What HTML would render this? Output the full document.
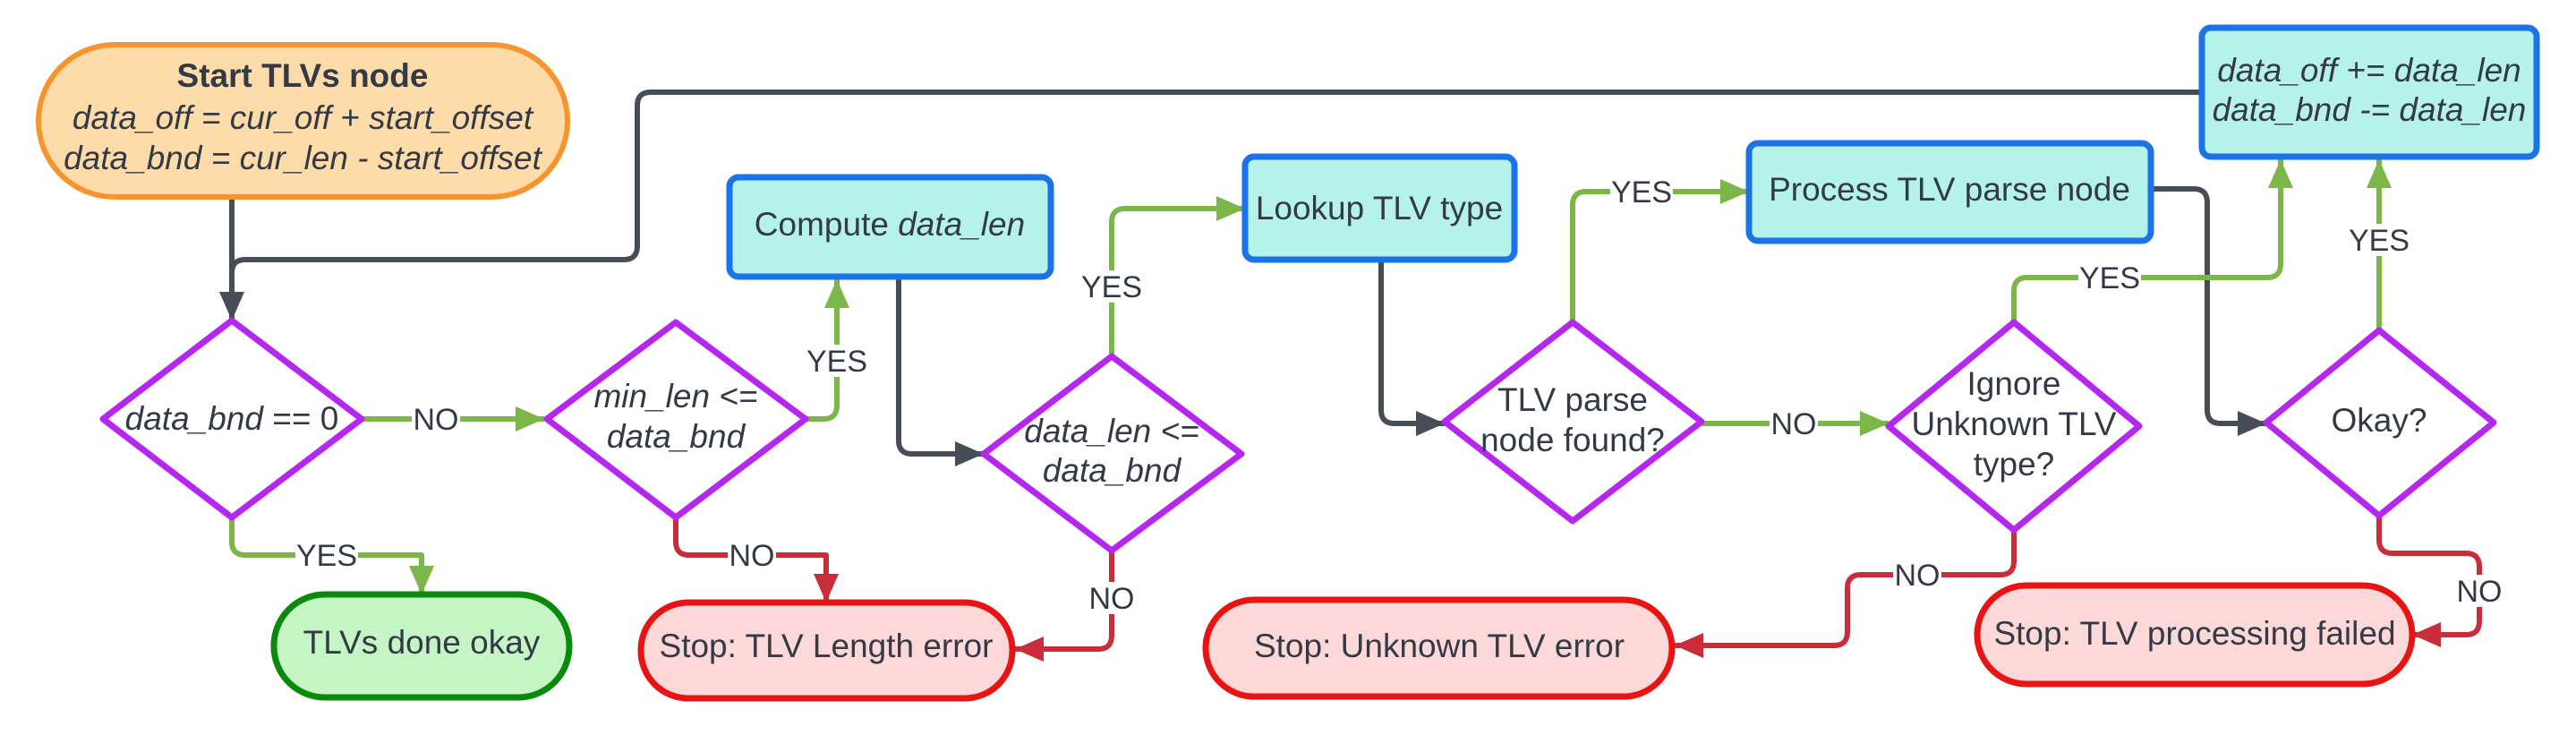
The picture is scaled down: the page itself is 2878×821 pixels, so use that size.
<!DOCTYPE html>
<html><head><meta charset="utf-8"><style>
html,body{margin:0;padding:0;background:#fff;}
svg{display:block;}
text{font-family:"Liberation Sans",Arial,sans-serif;font-size:37px;fill:#333a45;}
.it{font-style:italic;}
.lbl{font-size:34px;}
</style></head><body>
<svg width="2878" height="821" viewBox="0 0 2878 821" xmlns="http://www.w3.org/2000/svg">
<defs>
<marker id="ag" markerUnits="userSpaceOnUse" markerWidth="34" markerHeight="30" refX="32" refY="14" orient="auto"><path d="M0,0 L32,14 L0,28 z" fill="#474d57"/></marker>
<marker id="aG" markerUnits="userSpaceOnUse" markerWidth="34" markerHeight="30" refX="32" refY="14" orient="auto"><path d="M0,0 L32,14 L0,28 z" fill="#7ab648"/></marker>
<marker id="aR" markerUnits="userSpaceOnUse" markerWidth="34" markerHeight="30" refX="32" refY="14" orient="auto"><path d="M0,0 L32,14 L0,28 z" fill="#c92d39"/></marker>
</defs>
<g fill="none" stroke-width="6" stroke-linejoin="round">
<g stroke="#474d57">
<path d="M259,220 L259,358" marker-end="url(#ag)"/>
<path d="M2460,103 L727,103 Q712,103 712,118 L712,275 Q712,290 697,290 L274,290 Q259,290 259,305 L259,340"/>
<path d="M1004,309 L1004,492 Q1004,507 1019,507 L1099,507" marker-end="url(#ag)"/>
<path d="M1543,290 L1543,458 Q1543,473 1558,473 L1614,473" marker-end="url(#ag)"/>
<path d="M2403,211 L2451,211 Q2466,211 2466,226 L2466,458 Q2466,473 2481,473 L2532,473" marker-end="url(#ag)"/>
</g>
<g stroke="#7ab648">
<path d="M404,468 L608,468" marker-end="url(#aG)"/>
<path d="M900,468 L920,468 Q935,468 935,453 L935,312" marker-end="url(#aG)"/>
<path d="M1242,398 L1242,248 Q1242,233 1257,233 L1391,233" marker-end="url(#aG)"/>
<path d="M1757,360 L1757,229 Q1757,214 1772,214 L1954,214" marker-end="url(#aG)"/>
<path d="M1901,473 L2110,473" marker-end="url(#aG)"/>
<path d="M2250,360 L2250,325 Q2250,310 2265,310 L2533,310 Q2548,310 2548,295 L2548,178" marker-end="url(#aG)"/>
<path d="M2658,369 L2658,178" marker-end="url(#aG)"/>
<path d="M259,578 L259,605 Q259,620 274,620 L471,620 L471,664" marker-end="url(#aG)"/>
</g>
<g stroke="#c92d39">
<path d="M755,578 L755,605 Q755,620 770,620 L923,620 L923,673" marker-end="url(#aR)"/>
<path d="M1242,615 L1242,710 Q1242,725 1227,725 L1134,725" marker-end="url(#aR)"/>
<path d="M2250,592 L2250,627 Q2250,642 2235,642 L2079,642 Q2064,642 2064,657 L2064,706 Q2064,721 2049,721 L1871,721" marker-end="url(#aR)"/>
<path d="M2658,576 L2658,603 Q2658,618 2673,618 L2755,618 Q2770,618 2770,633 L2770,694 Q2770,709 2755,709 L2695,709" marker-end="url(#aR)"/>
</g>
</g>
<g fill="#fff">
<rect x="460" y="450" width="54" height="36"/>
<rect x="900" y="385" width="70" height="36"/>
<rect x="1207" y="302" width="70" height="36"/>
<rect x="1799" y="196" width="70" height="36"/>
<rect x="1977" y="455" width="54" height="36"/>
<rect x="2322" y="292" width="70" height="36"/>
<rect x="2623" y="250" width="70" height="36"/>
<rect x="330" y="602" width="70" height="36"/>
<rect x="813" y="602" width="54" height="36"/>
<rect x="1215" y="650" width="54" height="36"/>
<rect x="2115" y="624" width="54" height="36"/>
<rect x="2743" y="642" width="54" height="36"/>
</g>
<g text-anchor="middle">
<text class="lbl" x="487" y="480">NO</text>
<text class="lbl" x="935" y="415">YES</text>
<text class="lbl" x="1242" y="332">YES</text>
<text class="lbl" x="1834" y="226">YES</text>
<text class="lbl" x="2004" y="485">NO</text>
<text class="lbl" x="2357" y="322">YES</text>
<text class="lbl" x="2658" y="280">YES</text>
<text class="lbl" x="365" y="632">YES</text>
<text class="lbl" x="840" y="632">NO</text>
<text class="lbl" x="1242" y="680">NO</text>
<text class="lbl" x="2142" y="654">NO</text>
<text class="lbl" x="2770" y="672">NO</text>
</g>
<g stroke-width="6">
<rect x="43" y="50" width="591" height="170" rx="85" fill="#fedcaa" stroke="#f7942e"/>
<rect x="815" y="198" width="359" height="111" rx="10" fill="#b5f2ea" stroke="#1a73e8" stroke-width="7"/>
<rect x="1391" y="175" width="301" height="115" rx="10" fill="#b5f2ea" stroke="#1a73e8" stroke-width="7"/>
<rect x="1954" y="160" width="449" height="109" rx="10" fill="#b5f2ea" stroke="#1a73e8" stroke-width="7"/>
<rect x="2460" y="31" width="374" height="144" rx="10" fill="#b5f2ea" stroke="#1a73e8" stroke-width="7"/>
<rect x="306" y="664" width="330" height="115" rx="57" fill="#c5f5c5" stroke="#0a8a0a" stroke-width="7"/>
<rect x="716" y="673" width="415" height="107" rx="53" fill="#fdd8d9" stroke="#e81313" stroke-width="7"/>
<rect x="1347" y="670" width="521" height="108" rx="54" fill="#fdd8d9" stroke="#e81313" stroke-width="7"/>
<rect x="2209" y="654" width="486" height="110" rx="55" fill="#fdd8d9" stroke="#e81313" stroke-width="7"/>
<g fill="#fff" stroke="#b526f0" stroke-width="7" stroke-linejoin="round">
<polygon points="259,358 404,468 259,578 115,468"/>
<polygon points="755,360 900,468 755,578 611,468"/>
<polygon points="1242,398 1387,507 1242,615 1099,507"/>
<polygon points="1757,360 1901,471 1757,582 1614,471"/>
<polygon points="2250,360 2390,476 2250,592 2110,476"/>
<polygon points="2658,369 2786,472 2658,576 2532,472"/>
</g>
</g>
<g text-anchor="middle">
<text x="338" y="97" font-weight="bold">Start TLVs node</text>
<text x="338" y="144" class="it">data_off = cur_off + start_offset</text>
<text x="338" y="189" class="it">data_bnd = cur_len - start_offset</text>
<text x="994" y="263">Compute <tspan class="it">data_len</tspan></text>
<text x="1541" y="245">Lookup TLV type</text>
<text x="2178" y="224">Process TLV parse node</text>
<text x="2647" y="91" class="it">data_off += data_len</text>
<text x="2647" y="135" class="it">data_bnd -= data_len</text>
<text x="259" y="480"><tspan class="it">data_bnd</tspan> == 0</text>
<text x="755" y="455" class="it">min_len &lt;=</text>
<text x="755" y="500" class="it">data_bnd</text>
<text x="1242" y="494" class="it">data_len &lt;=</text>
<text x="1242" y="538" class="it">data_bnd</text>
<text x="1757" y="459">TLV parse</text>
<text x="1757" y="504">node found?</text>
<text x="2250" y="441">Ignore</text>
<text x="2250" y="486">Unknown TLV</text>
<text x="2250" y="531">type?</text>
<text x="2658" y="482">Okay?</text>
<text x="471" y="730">TLVs done okay</text>
<text x="923" y="734">Stop: TLV Length error</text>
<text x="1608" y="734">Stop: Unknown TLV error</text>
<text x="2452" y="720">Stop: TLV processing failed</text>
</g>
</svg>
</body></html>
